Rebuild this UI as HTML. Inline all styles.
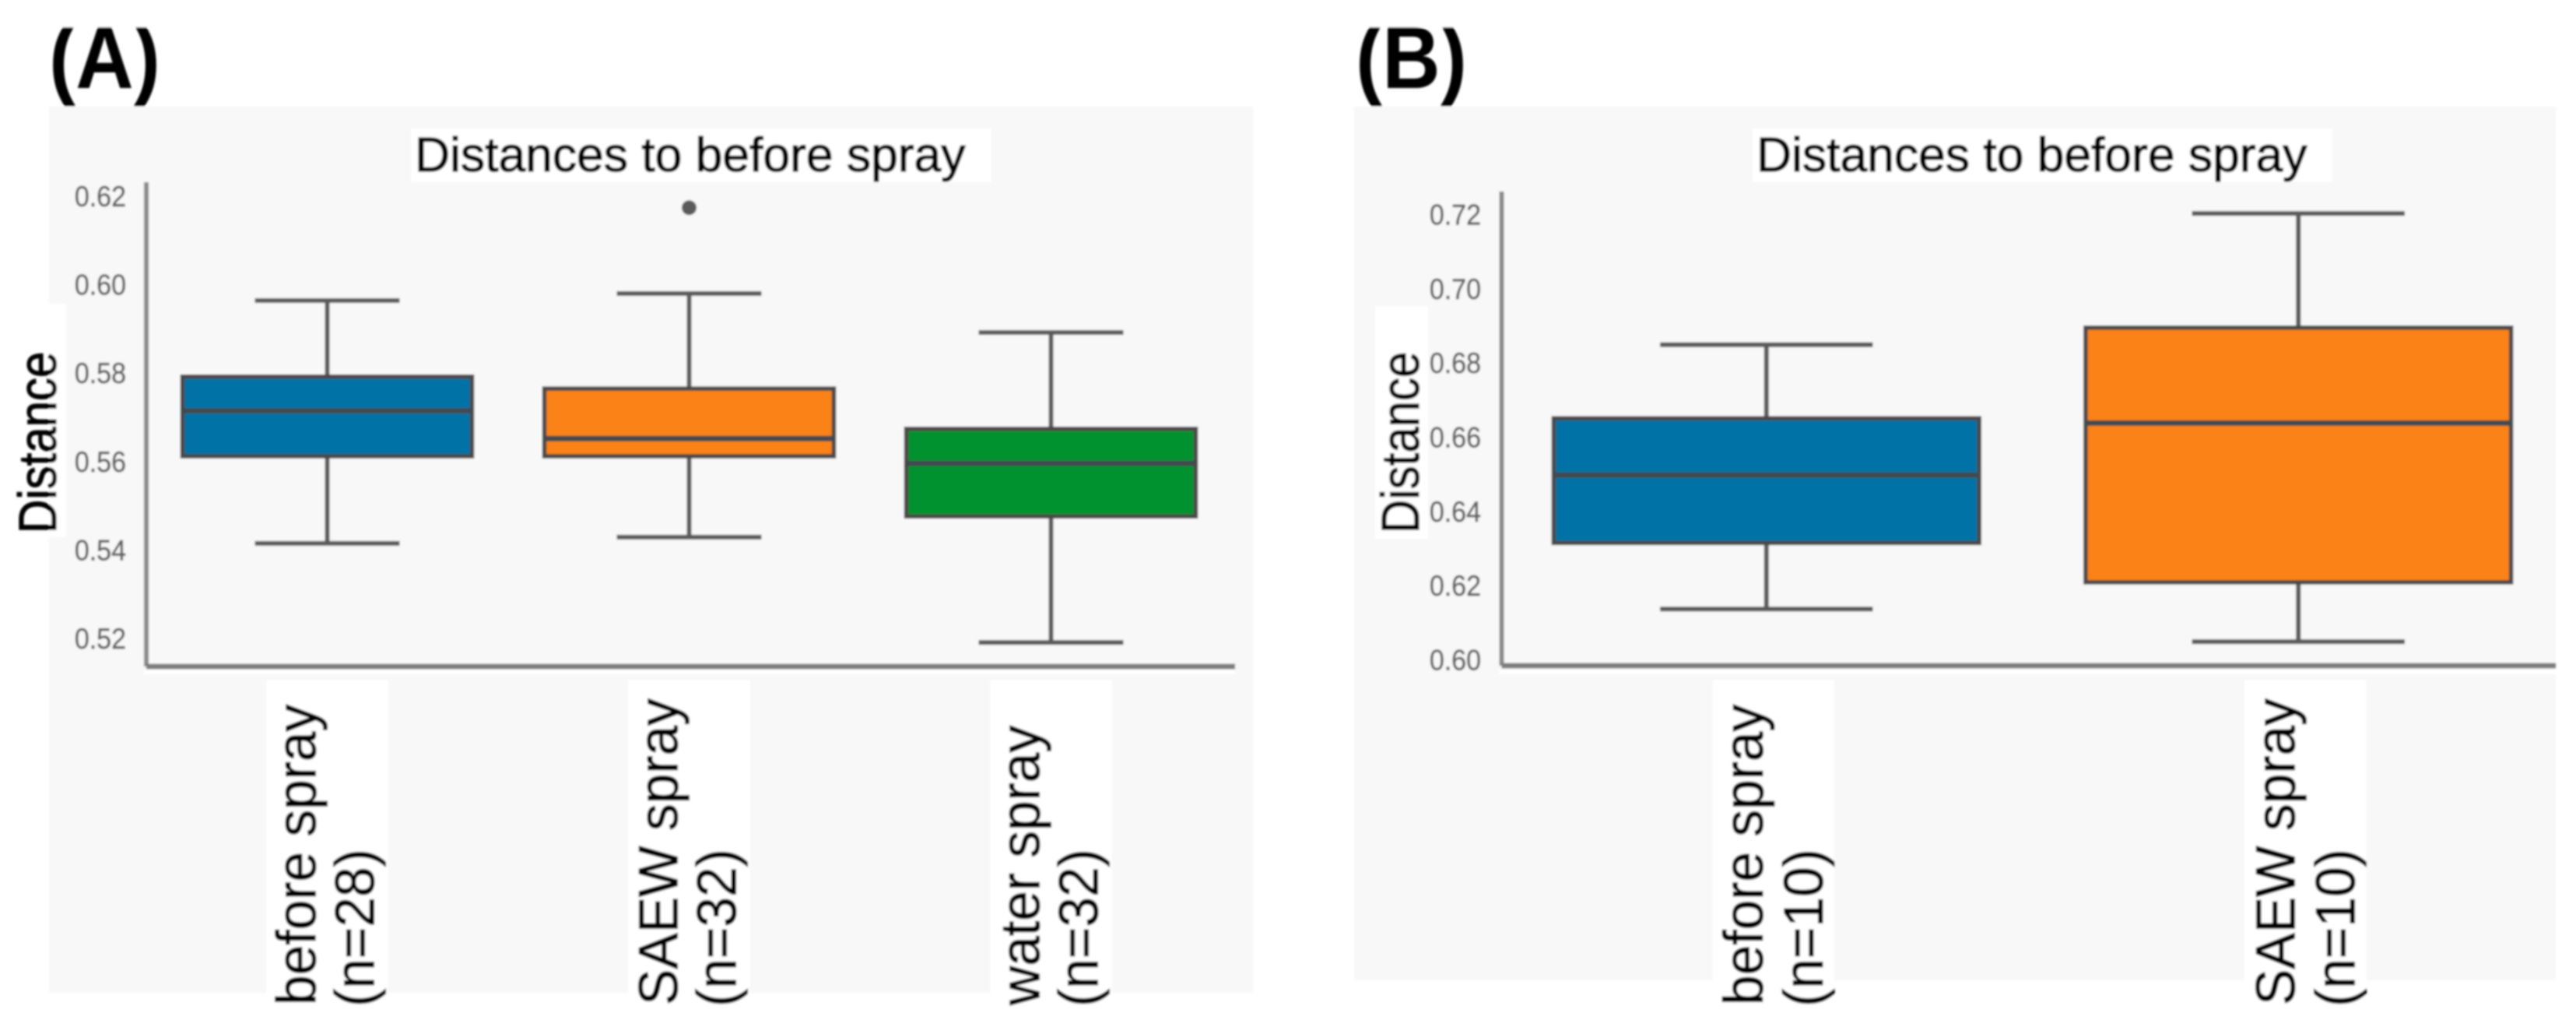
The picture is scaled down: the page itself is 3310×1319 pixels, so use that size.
<!DOCTYPE html>
<html lang="en">
<head>
<meta charset="utf-8">
<title>Distances to before spray</title>
<style>
html,body{margin:0;padding:0;background:#fff;}
svg{display:block;font-family:"Liberation Sans",Arial,sans-serif;}
</style>
</head>
<body>
<svg id="figure" xmlns="http://www.w3.org/2000/svg" width="3310" height="1319" viewBox="0 0 3310 1319">
  <defs>
    <filter id="soft" filterUnits="userSpaceOnUse" x="0" y="0" width="3310" height="1319">
      <feGaussianBlur stdDeviation="1.3"/>
    </filter>
  </defs>
  <rect x="0" y="0" width="3310" height="1319" fill="#ffffff"/>
  <g id="root" filter="url(#soft)">
    <!-- Panel A static parts -->
    <g id="panel-a">
      <rect x="63" y="137" width="1547" height="1138" fill="#f8f8f8"/>
      <rect x="63" y="390" width="22" height="300" fill="#ffffff"/>
      <rect x="528" y="165" width="746" height="69" fill="#ffffff"/>
      <text x="533" y="220" font-size="62.4" fill="#000" stroke="#000" stroke-width="1.3">Distances to before spray</text>
      <rect x="185" y="860" width="1402" height="6" fill="#ffffff"/>
      <line x1="188" y1="234" x2="188" y2="856" stroke="#8a8a8a" stroke-width="6"/>
      <line x1="188" y1="856" x2="1587" y2="856" stroke="#7e7e7e" stroke-width="7"/>
      <text transform="translate(72,685) rotate(-90) scale(1,1.14)" font-size="60" fill="#000" stroke="#000" stroke-width="1">Distance</text>
    </g>
    <!-- Panel B static parts -->
    <g id="panel-b">
      <rect x="1740" y="137" width="1544" height="1122" fill="#f8f8f8"/>
      <rect x="1767" y="393" width="68" height="299" fill="#ffffff"/>
      <rect x="2252" y="165" width="745" height="69" fill="#ffffff"/>
      <text x="2257" y="220" font-size="62.4" fill="#000" stroke="#000" stroke-width="1.3">Distances to before spray</text>
      <rect x="1926" y="860" width="1358" height="6" fill="#ffffff"/>
      <line x1="1929.5" y1="246" x2="1929.5" y2="855" stroke="#8a8a8a" stroke-width="6"/>
      <line x1="1929.5" y1="855" x2="3284" y2="855" stroke="#7e7e7e" stroke-width="7"/>
      <text transform="translate(1823,685) rotate(-90) scale(1,1.14)" font-size="60" fill="#000" stroke="#000" stroke-width="1">Distance</text>
    </g>
    <text transform="translate(63,113) scale(1,1.1)" font-size="103" font-weight="bold" fill="#000">(A)</text>
    <text transform="translate(1742,113) scale(1,1.1)" font-size="103" font-weight="bold" fill="#000">(B)</text>
    <rect x="0" y="0" width="3310" height="35" fill="#ffffff"/>
  </g>
</svg>
<script>
// Panel A data
const panelACategories = ["before spray", "SAEW spray", "water spray"];
const panelACounts = ["(n=28)", "(n=32)", "(n=32)"];
const panelAWhiskerLow = [0.5415, 0.5429, 0.5191];
const panelAQ1 = [0.5612, 0.5612, 0.5476];
const panelAMedian = [0.5715, 0.5652, 0.5596];
const panelAQ3 = [0.5792, 0.5765, 0.5674];
const panelAWhiskerHigh = [0.5964, 0.5980, 0.5892];
const panelAOutliers = [[], [0.6174], []];
const panelATicks = [0.52, 0.54, 0.56, 0.58, 0.60, 0.62];
const panelATickLabels = ["0.52", "0.54", "0.56", "0.58", "0.60", "0.62"];

// Panel B data
const panelBCategories = ["before spray", "SAEW spray"];
const panelBCounts = ["(n=10)", "(n=10)"];
const panelBWhiskerLow = [0.6137, 0.6049];
const panelBQ1 = [0.6315, 0.6209];
const panelBMedian = [0.6498, 0.6638];
const panelBQ3 = [0.6651, 0.6895];
const panelBWhiskerHigh = [0.6849, 0.7203];
const panelBOutliers = [[], []];
const panelBTicks = [0.60, 0.62, 0.64, 0.66, 0.68, 0.70, 0.72];
const panelBTickLabels = ["0.60", "0.62", "0.64", "0.66", "0.68", "0.70", "0.72"];

const NS = "http://www.w3.org/2000/svg";
const boxFills = ["#0072a6", "#fb8216", "#00922f"];

function makeEl(tag, attrs, parent) {
  const el = document.createElementNS(NS, tag);
  for (const k in attrs) el.setAttribute(k, attrs[k]);
  parent.appendChild(el);
  return el;
}

function linearAxis(v0, p0, v1, p1) {
  return function (v) { return p0 + (v - v0) * (p1 - p0) / (v1 - v0); };
}

function bandAxis(left, step) {
  return function (i) { return left + step * (i + 0.5); };
}

function drawPanel(opts) {
  const parent = document.getElementById(opts.parentId);
  const y = opts.y;
  const x = opts.x;
  const step = opts.step;

  opts.ticks.forEach(function (t, i) {
    const label = makeEl("text", {
      transform: "translate(" + opts.tickRight + "," + (y(t) + 13) + ") scale(1,1.08)",
      "text-anchor": "end",
      "font-size": 34,
      fill: "#606060",
      stroke: "#606060",
      "stroke-width": 0.6
    }, parent);
    label.textContent = opts.tickLabels[i];
    
    
  });

  opts.categories.forEach(function (cat, i) {
    const cx = x(i);
    const boxW = step * 0.8;
    const capW = step * 0.4;

    const patch = makeEl("rect", {
      x: cx + opts.patchOffset - 78,
      y: 873,
      width: 156,
      height: 422,
      fill: "#ffffff"
    }, parent);
    
    

    const line1 = makeEl("text", {
      transform: "translate(" + (cx + opts.line1Offset) + ",1291) rotate(-90) scale(1,1.03)",
      "font-size": 69.5,
      fill: "#000",
      stroke: "#000",
      "stroke-width": 1
    }, parent);
    line1.textContent = cat;
    
    

    const line2 = makeEl("text", {
      transform: "translate(" + (cx + opts.line2Offset) + ",1293) rotate(-90) scale(1,1.03)",
      "font-size": 69.5,
      fill: "#000",
      stroke: "#000",
      "stroke-width": 1
    }, parent);
    line2.textContent = opts.counts[i];
    
    

    const upperWhisker = makeEl("line", {
      x1: cx, x2: cx, y1: y(opts.whiskerHigh[i]), y2: y(opts.q3[i]),
      stroke: "#5a5a5a", "stroke-width": 6
    }, parent);
    
    

    const lowerWhisker = makeEl("line", {
      x1: cx, x2: cx, y1: y(opts.q1[i]), y2: y(opts.whiskerLow[i]),
      stroke: "#5a5a5a", "stroke-width": 6
    }, parent);
    
    

    const upperCap = makeEl("line", {
      x1: cx - capW / 2, x2: cx + capW / 2, y1: y(opts.whiskerHigh[i]), y2: y(opts.whiskerHigh[i]),
      stroke: "#5a5a5a", "stroke-width": 6
    }, parent);
    
    

    const lowerCap = makeEl("line", {
      x1: cx - capW / 2, x2: cx + capW / 2, y1: y(opts.whiskerLow[i]), y2: y(opts.whiskerLow[i]),
      stroke: "#5a5a5a", "stroke-width": 6
    }, parent);
    
    

    const box = makeEl("rect", {
      x: cx - boxW / 2,
      y: y(opts.q3[i]),
      width: boxW,
      height: y(opts.q1[i]) - y(opts.q3[i]),
      fill: boxFills[i],
      stroke: "#484848",
      "stroke-width": 5.5
    }, parent);
    
    

    const median = makeEl("line", {
      x1: cx - boxW / 2, x2: cx + boxW / 2, y1: y(opts.median[i]), y2: y(opts.median[i]),
      stroke: "#414b50", "stroke-width": 7
    }, parent);
    
    

    opts.outliers[i].forEach(function (v) {
      const dot = makeEl("circle", {
        cx: cx, cy: y(v), r: 9.5, fill: "#5a5a5a"
      }, parent);
      
      
    });
  });
}

drawPanel({
  parentId: "panel-a",
  categories: panelACategories,
  counts: panelACounts,
  whiskerLow: panelAWhiskerLow,
  q1: panelAQ1,
  median: panelAMedian,
  q3: panelAQ3,
  whiskerHigh: panelAWhiskerHigh,
  outliers: panelAOutliers,
  ticks: panelATicks,
  tickLabels: panelATickLabels,
  y: linearAxis(0.62, 252, 0.52, 820),
  x: bandAxis(188, 465),
  step: 465,
  tickRight: 162,
  patchOffset: 0,
  line1Offset: -15,
  line2Offset: 60
});

drawPanel({
  parentId: "panel-b",
  categories: panelBCategories,
  counts: panelBCounts,
  whiskerLow: panelBWhiskerLow,
  q1: panelBQ1,
  median: panelBMedian,
  q3: panelBQ3,
  whiskerHigh: panelBWhiskerHigh,
  outliers: panelBOutliers,
  ticks: panelBTicks,
  tickLabels: panelBTickLabels,
  y: linearAxis(0.72, 275.5, 0.60, 847.5),
  x: bandAxis(1928, 683.5),
  step: 683.5,
  tickRight: 1903,
  patchOffset: 9,
  line1Offset: -5,
  line2Offset: 72
});
</script>
</body>
</html>
